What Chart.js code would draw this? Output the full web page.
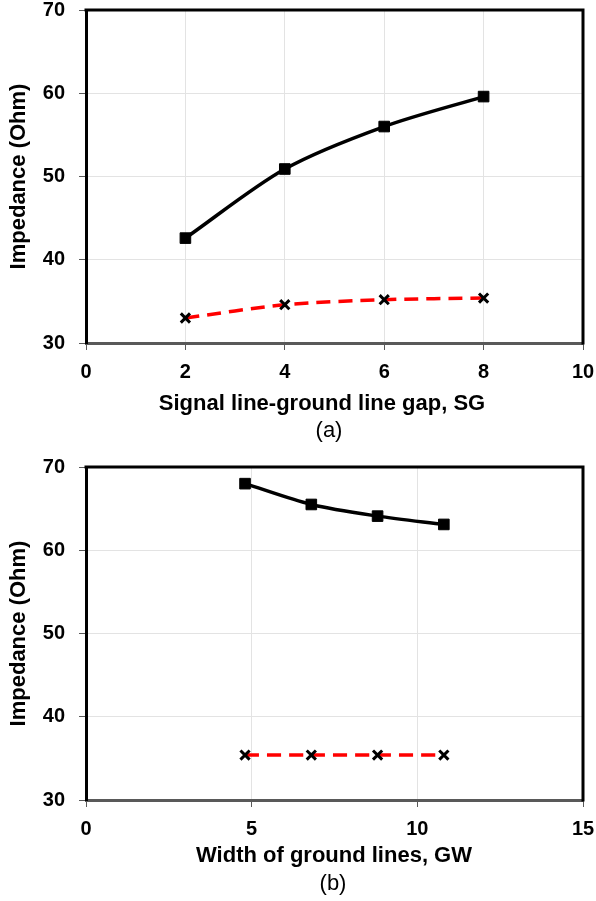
<!DOCTYPE html>
<html>
<head>
<meta charset="utf-8">
<script src="https://cdn.jsdelivr.net/npm/chart.js@4/dist/chart.umd.min.js"></script>
<style>
  html, body { margin: 0; padding: 0; background: #fff; }
  canvas { display: block; }
</style>
</head>
<body>
<canvas id="chart-sg" width="596" height="450"></canvas>
<canvas id="chart-gw" width="596" height="451"></canvas>
<script>
// (a) impedância x gap SG
const gapSG      = [2, 4, 6, 8];
const sgSolid    = [42.6, 50.9, 56.0, 59.6];
const sgDashed   = [33.0, 34.6, 35.2, 35.4];
const sgTicks    = [0, 10, 2];      // min, max, passo

// (b) impedância x largura GW
const widthGW    = [4.8, 6.8, 8.8, 10.8];
const gwSolid    = [68.0, 65.5, 64.1, 63.1];
const gwDashed   = [35.4, 35.4, 35.4, 35.4];
const gwTicks    = [0, 15, 5];

const yTicks     = [30, 70, 10];

const FONT = '"Liberation Sans", Arial, sans-serif';
const pts = (xs, ys) => xs.map((x, i) => ({ x, y: ys[i] }));

// moldura superior/direita (Excel desenha o quadro todo)
const framePlugin = {
  id: 'frame',
  beforeDatasetsDraw(chart){
    const { ctx, chartArea: a } = chart;
    ctx.save();
    ctx.strokeStyle = '#000';
    ctx.lineWidth = 3;
    ctx.beginPath();
    ctx.moveTo(a.left - 1.5, a.top);
    ctx.lineTo(a.right, a.top);
    ctx.lineTo(a.right, a.bottom + 1.5);
    ctx.stroke();
    ctx.restore();
  }
};

// título do eixo x + legenda (a)/(b), posição livre como no Excel
const captionPlugin = {
  id: 'captions',
  afterDraw(chart, args, opts){
    const { ctx } = chart;
    ctx.save();
    ctx.fillStyle = '#000';
    ctx.textAlign = 'center';
    ctx.textBaseline = 'middle';
    for(const c of opts.lines || []){
      ctx.font = `${c.bold ? 'bold ' : ''}22px ${FONT}`;
      ctx.fillText(c.text, c.x, c.y);
    }
    ctx.restore();
  }
};

function makeChart(id, cfg){
  const [xmin, xmax, xstep] = cfg.xTicks;
  const [ymin, ymax, ystep] = yTicks;
  return new Chart(document.getElementById(id), {
    type: 'line',
    data: {
      datasets: [
        {
          data: pts(cfg.xs, cfg.dashed),
          borderColor: '#ff0000',
          borderWidth: 3.5,
          borderDash: [14, 8],
          tension: 0.3,
          pointStyle: 'crossRot',
          pointRadius: 6.5,
          pointBorderWidth: 3,
          pointBorderColor: '#000',
          pointBackgroundColor: '#000'
        },
        {
          data: pts(cfg.xs, cfg.solid),
          borderColor: '#000',
          borderWidth: 3.5,
          tension: 0.3,
          pointStyle: 'rect',
          pointRadius: 7.5,
          pointBorderWidth: 1,
          pointBorderColor: '#000',
          pointBackgroundColor: '#000'
        }
      ]
    },
    options: {
      responsive: false,
      animation: false,
      layout: { padding: { top: cfg.padTop, right: 13, left: 0, bottom: cfg.padBottom } },
      plugins: {
        legend: { display: false },
        tooltip: { enabled: false },
        captions: { lines: cfg.captions }
      },
      scales: {
        x: {
          type: 'linear',
          min: xmin, max: xmax,
          ticks: { stepSize: xstep, color: '#000', padding: 10,
                   font: { family: FONT, size: 20, weight: 'bold' } },
          grid: { color: '#e3e3e3', tickColor: '#595959', tickLength: 7 },
          border: { color: '#595959', width: 3 },
          afterFit: s => { s.height = 40; s.paddingLeft = 0; s.paddingRight = 0; }
        },
        y: {
          min: ymin, max: ymax,
          ticks: { stepSize: ystep, color: '#000', padding: 14,
                   font: { family: FONT, size: 20, weight: 'bold' } },
          grid: { color: '#e3e3e3', tickColor: '#595959', tickLength: 7 },
          border: { color: '#000', width: 3 },
          title: { display: true, text: 'Impedance (Ohm)', color: '#000',
                   padding: { top: 6, bottom: 0 },
                   font: { family: FONT, size: 22, weight: 'bold' } },
          afterFit: s => { s.width = 86; s.paddingTop = 0; s.paddingBottom = 0; }
        }
      }
    },
    plugins: [framePlugin, captionPlugin]
  });
}

makeChart('chart-sg', {
  xs: gapSG, solid: sgSolid, dashed: sgDashed, xTicks: sgTicks,
  padTop: 10, padBottom: 67,
  captions: [
    { text: 'Signal line-ground line gap, SG', bold: true, x: 322, y: 404 },
    { text: '(a)', bold: false, x: 329, y: 431 }
  ]
});

makeChart('chart-gw', {
  xs: widthGW, solid: gwSolid, dashed: gwDashed, xTicks: gwTicks,
  padTop: 17, padBottom: 61,
  captions: [
    { text: 'Width of ground lines, GW', bold: true, x: 334, y: 406 },
    { text: '(b)', bold: false, x: 333, y: 434 }
  ]
});
</script>
</body>
</html>
